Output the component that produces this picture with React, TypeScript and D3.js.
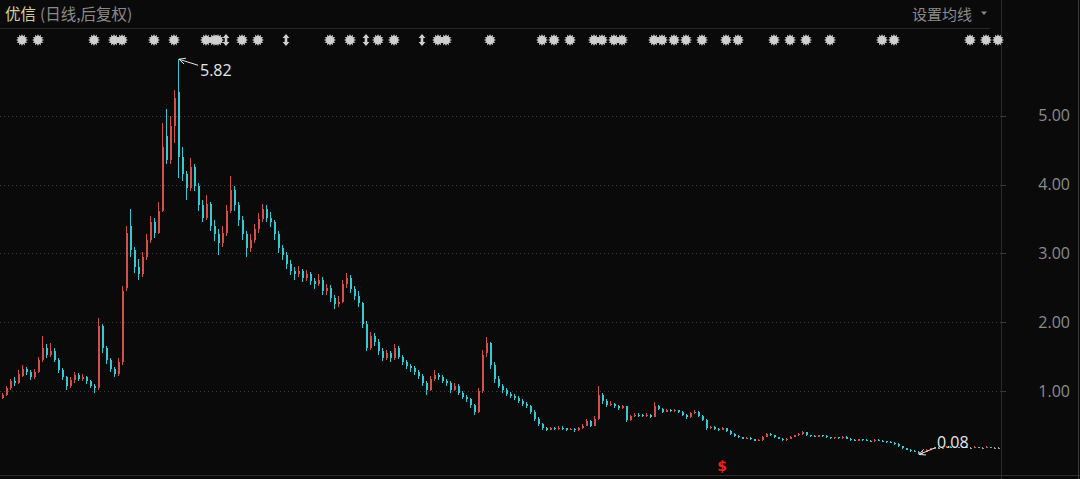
import React from "react";
import * as d3 from "d3";

const W = 1080;
const H = 479;
const PLOT_RIGHT = 1000;

// price axis ticks
const yTicks = [1, 2, 3, 4, 5];

// daily candles (back-adjusted)
const opens = [
  0.90, 0.95, 1.05, 1.15, 1.12, 1.22, 1.32, 1.28, 1.20, 1.28,
  1.45, 1.62, 1.52, 1.58, 1.45, 1.30, 1.20, 1.08, 1.16, 1.24,
  1.18, 1.20, 1.14, 1.07, 1.05, 1.95, 1.62, 1.45, 1.32, 1.25,
  1.42, 2.50, 3.40, 3.05, 2.80, 2.70, 2.95, 3.20, 3.45, 3.30,
  3.62, 4.70, 4.35, 4.85, 5.35, 4.40, 4.15, 3.95, 4.25, 3.98,
  3.70, 3.52, 3.72, 3.40, 3.28, 3.15, 3.30, 3.62, 3.92, 3.70,
  3.48, 3.28, 3.08, 3.20, 3.35, 3.50, 3.65, 3.52, 3.45, 3.28,
  3.08, 2.98, 2.85, 2.75, 2.70, 2.75, 2.64, 2.70, 2.60, 2.55,
  2.62, 2.45, 2.50, 2.35, 2.26, 2.30, 2.55, 2.65, 2.48, 2.38,
  2.28, 1.98, 1.62, 1.80, 1.72, 1.58, 1.48, 1.55, 1.48, 1.62,
  1.50, 1.42, 1.36, 1.33, 1.28, 1.22, 1.12, 1.02, 1.18, 1.24,
  1.20, 1.15, 1.12, 1.02, 1.08, 0.98, 0.92, 0.88, 0.80, 0.70,
  1.00, 1.55, 1.70, 1.38, 1.18, 1.08, 1.02, 0.96, 0.93, 0.90,
  0.86, 0.82, 0.78, 0.70, 0.60, 0.52, 0.46, 0.44, 0.46, 0.45,
  0.47, 0.46, 0.44, 0.45, 0.43, 0.46, 0.50, 0.56, 0.50, 0.60,
  0.95, 0.86, 0.80, 0.81, 0.78, 0.76, 0.78, 0.58, 0.64, 0.66,
  0.65, 0.64, 0.66, 0.63, 0.78, 0.74, 0.70, 0.72, 0.71, 0.72,
  0.70, 0.66, 0.62, 0.68, 0.70, 0.64, 0.58, 0.46, 0.48, 0.45,
  0.44, 0.46, 0.42, 0.38, 0.35, 0.33, 0.31, 0.32, 0.30, 0.28,
  0.29, 0.34, 0.38, 0.36, 0.33, 0.31, 0.29, 0.31, 0.34, 0.36,
  0.38, 0.40, 0.36, 0.35, 0.34, 0.36, 0.35, 0.33, 0.32, 0.33,
  0.32, 0.34, 0.31, 0.29, 0.28, 0.30, 0.29, 0.28, 0.27, 0.29,
  0.28, 0.27, 0.26, 0.25, 0.23, 0.20, 0.17, 0.15, 0.13, 0.12,
  0.10, 0.12, 0.15, 0.17, 0.18, 0.17, 0.18, 0.19, 0.18, 0.19,
  0.18, 0.19, 0.18, 0.18, 0.19, 0.18, 0.18, 0.19, 0.18, 0.18,
];

const highs = [
  0.98, 1.08, 1.18, 1.20, 1.30, 1.38, 1.35, 1.30, 1.32, 1.50,
  1.80, 1.68, 1.70, 1.62, 1.48, 1.33, 1.22, 1.20, 1.28, 1.27,
  1.25, 1.22, 1.16, 1.10, 2.06, 1.98, 1.66, 1.48, 1.35, 1.48,
  2.52, 3.40, 3.65, 3.10, 2.92, 3.02, 3.28, 3.55, 3.52, 3.75,
  4.90, 5.10, 5.00, 5.38, 5.82, 4.55, 4.20, 4.38, 4.30, 4.02,
  3.78, 3.85, 3.75, 3.48, 3.35, 3.40, 3.70, 4.13, 3.98, 3.75,
  3.55, 3.32, 3.28, 3.42, 3.58, 3.72, 3.70, 3.60, 3.48, 3.32,
  3.12, 3.02, 2.90, 2.80, 2.82, 2.78, 2.76, 2.73, 2.64, 2.70,
  2.66, 2.56, 2.54, 2.40, 2.38, 2.62, 2.72, 2.68, 2.52, 2.45,
  2.30, 2.02, 1.86, 1.84, 1.75, 1.62, 1.60, 1.58, 1.68, 1.65,
  1.53, 1.45, 1.40, 1.36, 1.30, 1.25, 1.15, 1.22, 1.30, 1.27,
  1.23, 1.18, 1.14, 1.12, 1.10, 1.00, 0.95, 0.90, 0.82, 1.05,
  1.60, 1.78, 1.72, 1.42, 1.22, 1.10, 1.05, 0.99, 0.96, 0.93,
  0.88, 0.84, 0.80, 0.72, 0.62, 0.54, 0.48, 0.48, 0.48, 0.49,
  0.49, 0.47, 0.47, 0.46, 0.48, 0.53, 0.60, 0.58, 0.64, 1.08,
  0.98, 0.88, 0.85, 0.83, 0.80, 0.80, 0.79, 0.66, 0.68, 0.68,
  0.67, 0.68, 0.67, 0.84, 0.80, 0.76, 0.74, 0.74, 0.74, 0.73,
  0.71, 0.67, 0.70, 0.73, 0.71, 0.65, 0.59, 0.50, 0.49, 0.46,
  0.48, 0.47, 0.43, 0.39, 0.36, 0.34, 0.33, 0.33, 0.31, 0.30,
  0.35, 0.39, 0.39, 0.37, 0.34, 0.32, 0.32, 0.35, 0.37, 0.39,
  0.42, 0.41, 0.37, 0.36, 0.37, 0.37, 0.36, 0.34, 0.34, 0.34,
  0.35, 0.35, 0.32, 0.30, 0.31, 0.31, 0.30, 0.29, 0.30, 0.30,
  0.29, 0.28, 0.27, 0.26, 0.24, 0.21, 0.18, 0.16, 0.14, 0.13,
  0.14, 0.16, 0.18, 0.19, 0.19, 0.19, 0.20, 0.20, 0.20, 0.19,
  0.20, 0.19, 0.19, 0.20, 0.19, 0.19, 0.20, 0.19, 0.19, 0.19,
];

const lows = [
  0.88, 0.93, 1.02, 1.08, 1.10, 1.20, 1.24, 1.16, 1.18, 1.26,
  1.42, 1.48, 1.50, 1.42, 1.26, 1.16, 1.02, 1.05, 1.12, 1.14,
  1.15, 1.10, 1.04, 0.98, 1.02, 1.55, 1.40, 1.28, 1.20, 1.22,
  1.38, 2.45, 2.95, 2.72, 2.62, 2.66, 2.90, 3.15, 3.22, 3.28,
  3.60, 4.30, 4.30, 4.60, 4.10, 4.05, 3.78, 3.90, 3.90, 3.62,
  3.45, 3.48, 3.32, 3.18, 2.98, 3.10, 3.25, 3.58, 3.62, 3.40,
  3.20, 2.95, 3.02, 3.15, 3.30, 3.45, 3.45, 3.38, 3.20, 3.00,
  2.90, 2.78, 2.68, 2.62, 2.66, 2.58, 2.60, 2.54, 2.48, 2.52,
  2.40, 2.40, 2.30, 2.20, 2.22, 2.28, 2.50, 2.42, 2.32, 2.22,
  1.92, 1.58, 1.60, 1.66, 1.52, 1.44, 1.45, 1.42, 1.45, 1.46,
  1.38, 1.32, 1.28, 1.24, 1.18, 1.08, 0.95, 1.00, 1.15, 1.16,
  1.12, 1.08, 0.98, 1.00, 0.95, 0.88, 0.84, 0.76, 0.66, 0.68,
  0.98, 1.50, 1.32, 1.12, 1.04, 0.98, 0.93, 0.90, 0.87, 0.83,
  0.79, 0.75, 0.67, 0.57, 0.49, 0.44, 0.42, 0.43, 0.43, 0.44,
  0.44, 0.42, 0.43, 0.41, 0.42, 0.45, 0.49, 0.48, 0.49, 0.58,
  0.82, 0.77, 0.78, 0.75, 0.73, 0.74, 0.55, 0.56, 0.62, 0.63,
  0.62, 0.63, 0.61, 0.62, 0.72, 0.68, 0.69, 0.69, 0.70, 0.68,
  0.64, 0.60, 0.61, 0.67, 0.62, 0.56, 0.44, 0.45, 0.44, 0.42,
  0.43, 0.40, 0.37, 0.34, 0.32, 0.30, 0.30, 0.29, 0.27, 0.27,
  0.28, 0.33, 0.35, 0.32, 0.30, 0.28, 0.28, 0.30, 0.33, 0.35,
  0.37, 0.35, 0.34, 0.33, 0.33, 0.34, 0.32, 0.31, 0.31, 0.31,
  0.31, 0.30, 0.28, 0.27, 0.27, 0.28, 0.27, 0.26, 0.26, 0.27,
  0.26, 0.25, 0.24, 0.22, 0.19, 0.16, 0.14, 0.12, 0.11, 0.08,
  0.09, 0.11, 0.14, 0.16, 0.16, 0.16, 0.17, 0.17, 0.17, 0.17,
  0.17, 0.17, 0.17, 0.17, 0.17, 0.17, 0.17, 0.17, 0.17, 0.17,
];

const closes = [
  0.95, 1.05, 1.15, 1.12, 1.25, 1.32, 1.28, 1.20, 1.28, 1.45,
  1.62, 1.52, 1.58, 1.45, 1.30, 1.20, 1.08, 1.16, 1.24, 1.18,
  1.20, 1.14, 1.07, 1.04, 1.95, 1.62, 1.45, 1.32, 1.25, 1.42,
  2.45, 3.30, 3.05, 2.80, 2.70, 2.95, 3.20, 3.45, 3.30, 3.62,
  4.55, 4.35, 4.85, 5.25, 4.40, 4.15, 3.95, 4.25, 3.98, 3.70,
  3.52, 3.72, 3.40, 3.28, 3.15, 3.30, 3.62, 3.92, 3.70, 3.48,
  3.28, 3.08, 3.20, 3.35, 3.50, 3.65, 3.52, 3.45, 3.28, 3.08,
  2.98, 2.85, 2.75, 2.70, 2.75, 2.64, 2.70, 2.60, 2.55, 2.62,
  2.45, 2.50, 2.35, 2.26, 2.30, 2.55, 2.65, 2.48, 2.38, 2.28,
  1.98, 1.62, 1.80, 1.72, 1.58, 1.48, 1.55, 1.48, 1.62, 1.50,
  1.42, 1.36, 1.33, 1.28, 1.22, 1.12, 1.02, 1.18, 1.24, 1.20,
  1.15, 1.12, 1.02, 1.08, 0.98, 0.92, 0.88, 0.80, 0.70, 1.00,
  1.52, 1.70, 1.38, 1.18, 1.08, 1.02, 0.96, 0.93, 0.90, 0.86,
  0.82, 0.78, 0.70, 0.60, 0.52, 0.46, 0.44, 0.46, 0.45, 0.47,
  0.46, 0.44, 0.45, 0.43, 0.46, 0.50, 0.56, 0.50, 0.60, 0.95,
  0.86, 0.80, 0.81, 0.78, 0.76, 0.78, 0.58, 0.64, 0.66, 0.65,
  0.64, 0.66, 0.63, 0.78, 0.74, 0.70, 0.72, 0.71, 0.72, 0.70,
  0.66, 0.62, 0.68, 0.70, 0.64, 0.58, 0.46, 0.48, 0.45, 0.44,
  0.46, 0.42, 0.38, 0.35, 0.33, 0.31, 0.32, 0.30, 0.28, 0.29,
  0.34, 0.38, 0.36, 0.33, 0.31, 0.29, 0.31, 0.34, 0.36, 0.38,
  0.40, 0.36, 0.35, 0.34, 0.36, 0.35, 0.33, 0.32, 0.33, 0.32,
  0.34, 0.31, 0.29, 0.28, 0.30, 0.29, 0.28, 0.27, 0.29, 0.28,
  0.27, 0.26, 0.25, 0.23, 0.20, 0.17, 0.15, 0.13, 0.12, 0.10,
  0.12, 0.15, 0.17, 0.18, 0.17, 0.18, 0.19, 0.18, 0.19, 0.18,
  0.19, 0.18, 0.18, 0.19, 0.18, 0.18, 0.19, 0.18, 0.18, 0.18,
];

// event markers along the top strip (candle index)
const starMarks = [
  5, 9, 23, 28, 30, 38, 43, 51, 53, 54, 60, 64, 82, 87, 94, 98, 109, 111,
  122, 135, 138, 142, 148, 150, 153, 155, 163, 165, 168, 171, 175, 181, 184,
  193, 197, 201, 207, 220, 223, 242, 246, 249,
];
const arrowMarks = [56, 71, 91, 105];
const dividendMarks = [180];

const UP = "#d1524b";
const DOWN = "#37c8d2";
const FLAT = "#9a9a9a";
const CJK = "'Noto Sans CJK SC', 'Noto Sans', sans-serif";
const NUM = "'Segoe UI', 'Open Sans', 'Noto Sans', sans-serif";

const starPath = d3
  .lineRadial()
  .curve(d3.curveLinearClosed)(
    d3.range(24).map((k) => [(k * Math.PI) / 12, k % 2 ? 3.9 : 6] as [number, number])
  ) as string;
const arrowPath = "M0,-6 L-3.4,-2 L-1.3,-2 L-1.3,2 L-3.4,2 L0,6 L3.4,2 L1.3,2 L1.3,-2 L3.4,-2 Z";

const Pointer = ({ tx, ty, ex, ey }: any) => {
  const a = Math.atan2(ey - ty, ex - tx);
  const h1 = [tx + 7 * Math.cos(a - 0.45), ty + 7 * Math.sin(a - 0.45)];
  const h2 = [tx + 7 * Math.cos(a + 0.45), ty + 7 * Math.sin(a + 0.45)];
  return (
    <path
      d={`M${ex},${ey}L${tx},${ty}M${h1[0]},${h1[1]}L${tx},${ty}L${h2[0]},${h2[1]}`}
      stroke="#e6e6e6"
      strokeWidth={1}
      fill="none"
    />
  );
};

const App = () => {
  const idx = d3.range(closes.length);
  const x = d3.scaleBand<number>().domain(idx).range([0, PLOT_RIGHT]);
  const y = d3.scaleLinear().domain([0, 5]).range([460, 115.7]);
  const bw = Math.max(1, Math.round(x.bandwidth() * 0.55));
  const cx = (i: number) => Math.round((x(i) as number) + x.bandwidth() / 2);
  const fmt = d3.format(".2f");

  const hiIdx = d3.maxIndex(highs);
  const loIdx = d3.minIndex(lows);
  const hx = cx(hiIdx) + 1;
  const hy = y(highs[hiIdx]);
  const lx = cx(loIdx) + 1;
  const ly = y(lows[loIdx]);

  return (
    <div style={{ position: "fixed", left: 0, top: 0 }}>
      <svg width={W} height={H} style={{ display: "block", background: "#0a0a0a" }}>
        {/* header */}
        <text x={5} y={20} fontFamily={CJK} fontSize={15.5}>
          <tspan fill="#d9cf98">优信</tspan>
          <tspan fill="#8a8a8a" dx={4}>(日线,后复权)</tspan>
        </text>
        <text x={912} y={20} fontFamily={CJK} fontSize={15} fill="#8a8a8a">
          设置均线
        </text>
        <path d="M981,11.5 L987,11.5 L984,15 Z" fill="#8a8a8a" />
        <line x1={0} x2={990} y1={28.5} y2={28.5} stroke="#262626" />
        <line x1={1001.5} x2={1001.5} y1={0} y2={H} stroke="#2a2a2a" />
        <line x1={0} x2={W} y1={475.5} y2={475.5} stroke="#2c2c2c" />
        <line x1={1078.5} x2={1078.5} y1={0} y2={H} stroke="#3a3a3a" />

        {/* grid + right axis */}
        {yTicks.map((t) => (
          <g key={t}>
            <line
              x1={0}
              x2={1001}
              y1={Math.round(y(t)) + 0.5}
              y2={Math.round(y(t)) + 0.5}
              stroke="#3c3c3c"
              strokeDasharray="1,3"
            />
            <line x1={1002} x2={1006} y1={Math.round(y(t)) + 0.5} y2={Math.round(y(t)) + 0.5} stroke="#3a3a3a" />
            <text
              x={1070}
              y={y(t)}
              dy="0.36em"
              textAnchor="end"
              fontFamily={NUM}
              fontSize={16}
              fill="#8c8c8c"
            >
              {fmt(t)}
            </text>
          </g>
        ))}

        {/* event strip */}
        <g fill="#cfcfcf">
          {starMarks.map((m, k) => (
            <path key={"s" + k} d={starPath} transform={`translate(${cx(m)},40)`} />
          ))}
          {arrowMarks.map((m, k) => (
            <path key={"a" + k} d={arrowPath} transform={`translate(${cx(m)},40)`} />
          ))}
        </g>

        {/* candles */}
        <g shapeRendering="crispEdges">
          {idx.map((i) => {
            const o = opens[i];
            const c = closes[i];
            const col = c > o ? UP : c < o ? DOWN : FLAT;
            const top = y(Math.max(o, c));
            const bot = y(Math.min(o, c));
            const xc = cx(i);
            return (
              <g key={i}>
                <line x1={xc + 0.5} x2={xc + 0.5} y1={y(highs[i])} y2={y(lows[i])} stroke={col} />
                <rect x={xc - Math.floor(bw / 2) + (bw % 2 ? 0 : 1)} y={top} width={bw} height={Math.max(1, bot - top)} fill={col} />
              </g>
            );
          })}
        </g>

        {/* dividend mark */}
        {dividendMarks.map((m) => (
          <text
            key={m}
            x={cx(m)}
            y={471}
            textAnchor="middle"
            fontFamily="'DejaVu Sans', sans-serif"
            fontWeight="bold"
            fontSize={14}
            fill="#e8231f"
          >
            $
          </text>
        ))}

        {/* extremes */}
        <Pointer tx={hx} ty={hy} ex={hx + 19} ey={hy + 6} />
        <text x={hx + 21} y={hy + 17} fontFamily={NUM} fontSize={16} fill="#e6e6e6">
          {fmt(highs[hiIdx])}
        </text>
        <Pointer tx={lx} ty={ly} ex={lx + 17} ey={ly - 7} />
        <text x={lx + 18} y={ly - 6} fontFamily={NUM} fontSize={16} fill="#e6e6e6">
          {fmt(lows[loIdx])}
        </text>
      </svg>
    </div>
  );
};

export default App;
